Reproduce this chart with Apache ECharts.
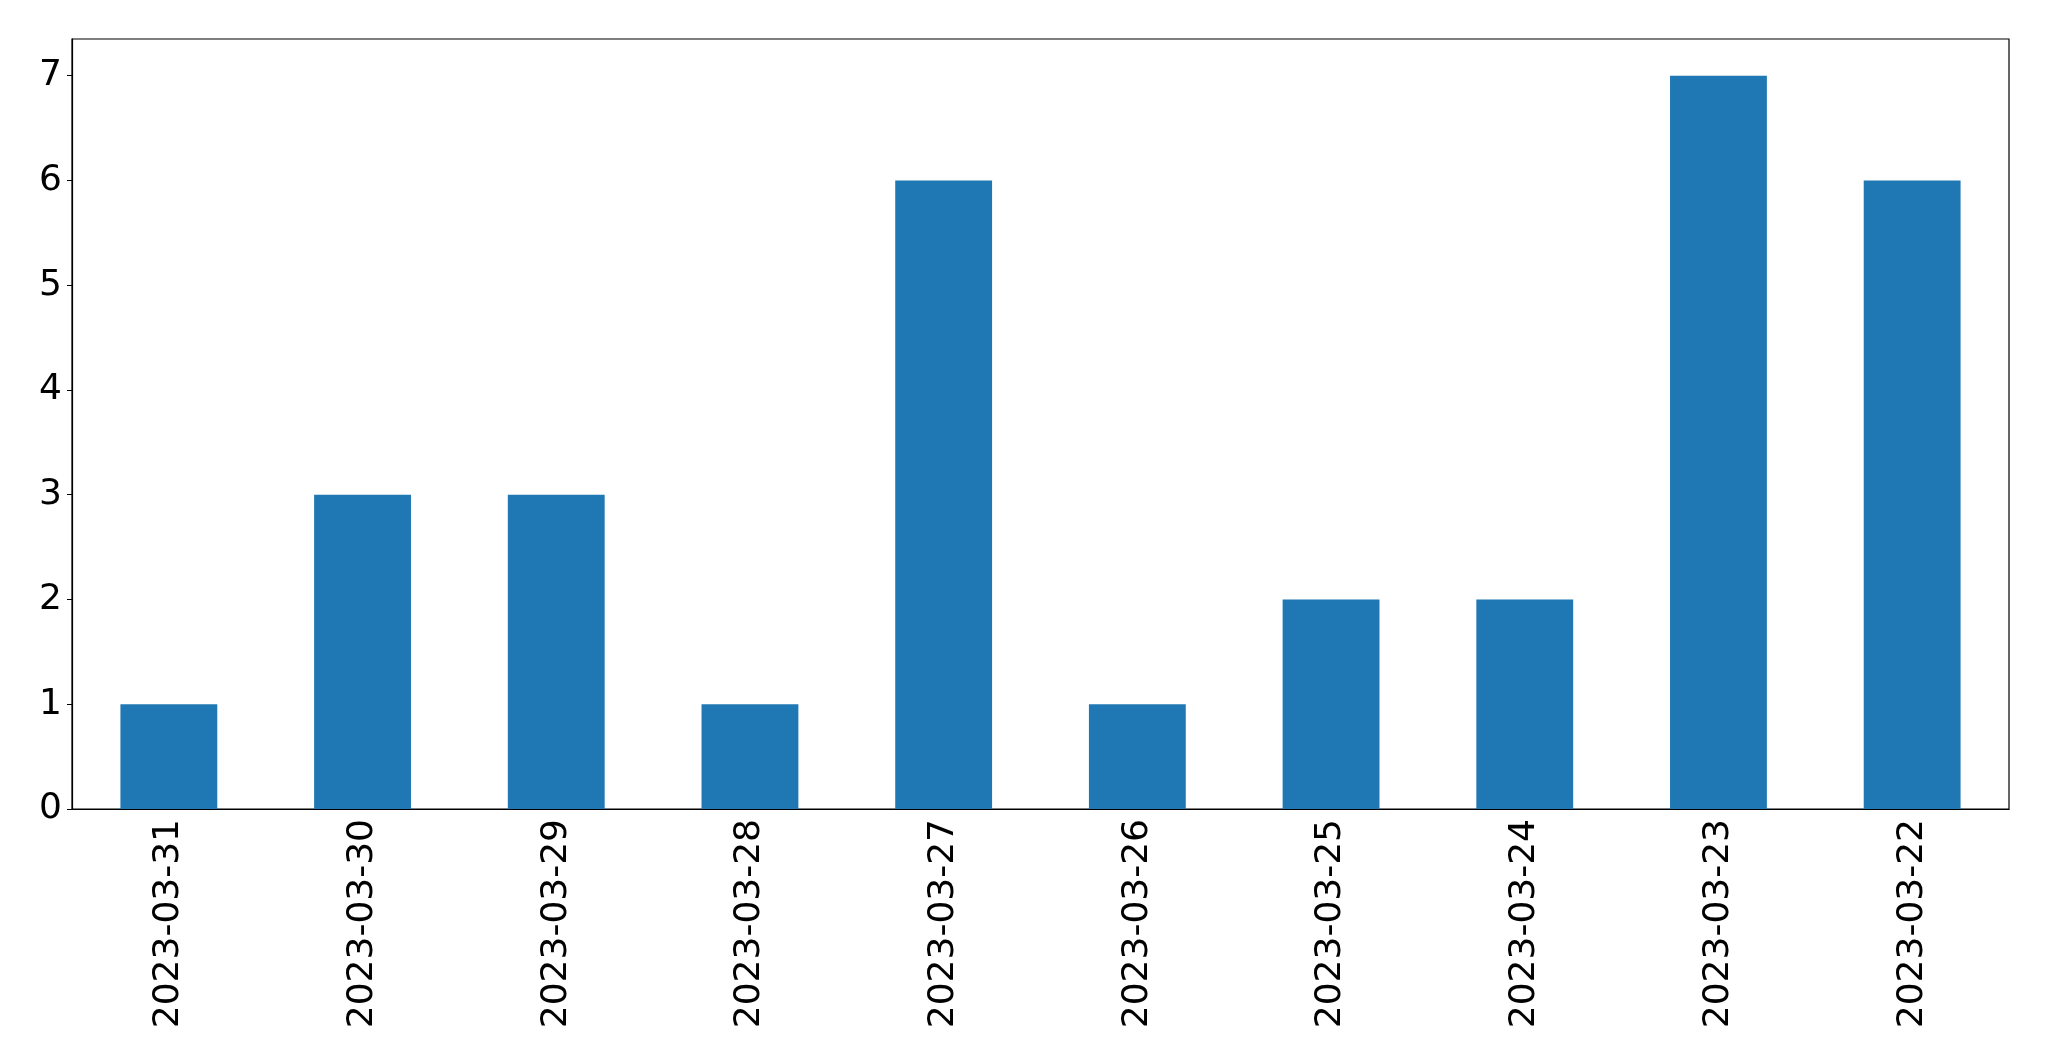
<!DOCTYPE html>
<html>
<head>
<meta charset="utf-8">
<script src="https://cdn.jsdelivr.net/npm/echarts@6/dist/echarts.min.js"></script>
<style>
  html, body { margin: 0; padding: 0; background: #fff; }
  #chart { width: 2049px; height: 1061px; }
</style>
</head>
<body>
<div id="chart"></div>
<script>
// dates as they appear on the x axis (newest first)
const dates = [
  "2023-03-31", "2023-03-30", "2023-03-29", "2023-03-28", "2023-03-27",
  "2023-03-26", "2023-03-25", "2023-03-24", "2023-03-23", "2023-03-22",
];
const counts = [1, 3, 3, 1, 6, 1, 2, 2, 7, 6];
const yTicks = [0, 1, 2, 3, 4, 5, 6, 7];

var myChart = echarts.init(document.getElementById("chart"));

let option = {
  animation: false,
  textStyle: {
    fontFamily: "DejaVu Sans",
    color: "#000",
  },
  grid: {
    left: 72,
    right: 40,
    top: 39,
    bottom: 252,
    show: true,
    borderColor: "#000",
    borderWidth: 1.2,
  },
  xAxis: {
    type: "category",
    data: dates,
    boundaryGap: true,
    axisLine: { lineStyle: { color: "#000", width: 1.2 } },
    axisTick: { alignWithLabel: true, length: 5, lineStyle: { color: "#000" } },
    axisLabel: {
      rotate: 90,
      margin: 10,
      fontSize: 36,
      color: "#000",
      fontFamily: "DejaVu Sans",
      interval: 0,
    },
  },
  yAxis: {
    type: "value",
    min: 0,
    max: 7.35,
    interval: 1,
    splitLine: { show: false },
    axisLine: { show: true, lineStyle: { color: "#000", width: 1.2 } },
    axisTick: {
      show: true,
      length: 5,
      lineStyle: { color: "#000" },
      customValues: yTicks,
    },
    axisLabel: {
      margin: 10,
      fontSize: 36,
      color: "#000",
      fontFamily: "DejaVu Sans",
      customValues: yTicks,
    },
  },
  series: [
    {
      type: "bar",
      data: counts,
      barWidth: "50%",
      itemStyle: { color: "#1f77b4" },
    },
  ],
};
myChart.setOption(option);
</script>
</body>
</html>
